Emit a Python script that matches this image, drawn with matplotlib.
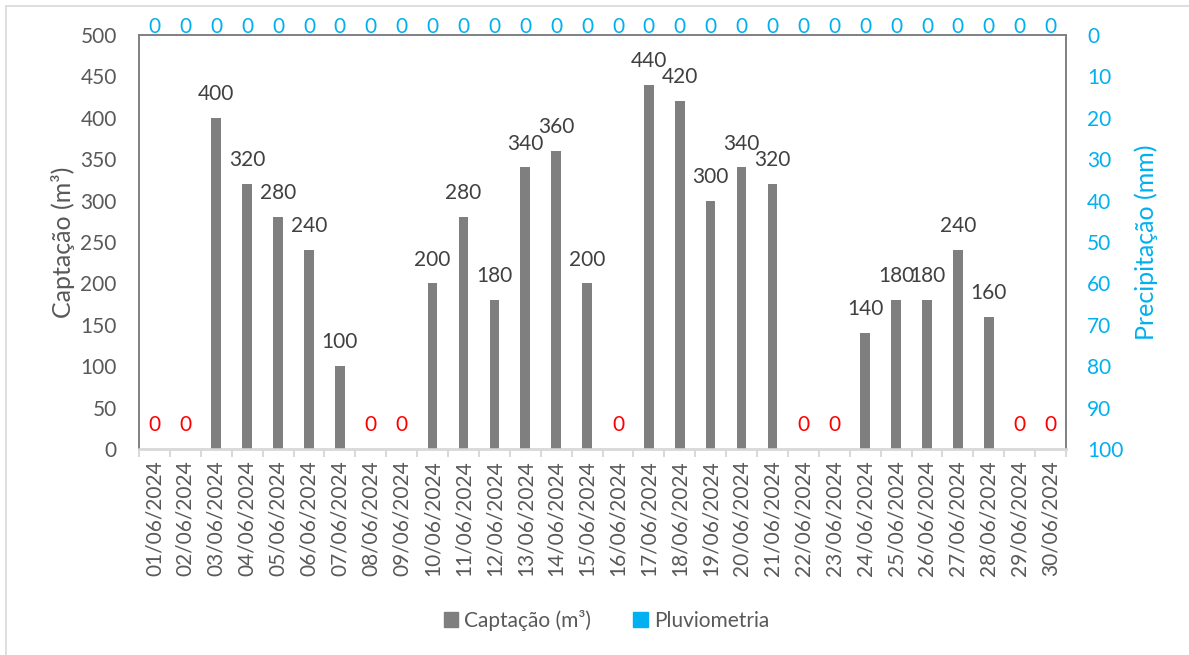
import numpy as np
import matplotlib.pyplot as plt
from matplotlib.patches import Rectangle
from matplotlib.lines import Line2D

plt.rcParams['font.family'] = ['Lato', 'DejaVu Sans']

# Dados (junho de 2024)
dias = [f"{d:02d}/06/2024" for d in range(1, 31)]
captacao = [0, 0, 400, 320, 280, 240, 100, 0, 0, 200,
            280, 180, 340, 360, 200, 0, 440, 420, 300, 340,
            320, 0, 0, 140, 180, 180, 240, 160, 0, 0]
pluviometria = [0] * 30

cinza = '#7F7F7F'
azul = '#00B0F0'
texto = '#595959'
rotulo = '#404040'
fs = 15

fig = plt.figure(figsize=(11.89, 6.55), dpi=100)
ax = fig.add_axes([0.1169, 0.3145, 0.7797, 0.6321])
ax2 = ax.twinx()

x = np.arange(len(dias))
ax.bar(x, captacao, width=0.31, color=cinza, zorder=3)
ax2.bar(x, pluviometria, width=0.31, color=azul, zorder=3)

ax.set_xlim(-0.5, len(dias) - 0.5)
ax.set_ylim(0, 500)
ax.set_yticks(range(0, 501, 50))
ax2.set_ylim(100, 0)
ax2.set_yticks(range(0, 101, 10))

# rótulos da captação
for xi, v in zip(x, captacao):
    if v > 0:
        ax.annotate(str(v), (xi, v), xytext=(0, 10), textcoords='offset points',
                    ha='center', va='bottom', fontsize=fs, color=rotulo)
    else:
        ax.text(xi, 29, '0', ha='center', va='center', fontsize=fs, color='red')

# rótulos da pluviometria
for xi, v in zip(x, pluviometria):
    ax2.annotate(str(v), (xi, v), xytext=(0, -1.5), textcoords='offset points',
                 ha='center', va='bottom', fontsize=fs, color=azul, annotation_clip=False)

ax.set_xticks(x)
ax.set_xticklabels(dias, rotation=90, fontsize=fs, color=texto)
ax.set_xticks(np.arange(-0.5, len(dias), 1), minor=True)
ax.tick_params(axis='x', which='major', length=0, pad=8)
ax.tick_params(axis='x', which='minor', length=6, color='#D9D9D9', width=1.5)
ax.tick_params(axis='y', length=0, labelsize=fs, labelcolor=texto, pad=16)
ax2.tick_params(axis='y', length=0, labelsize=fs, labelcolor=azul, pad=15)

for a in (ax, ax2):
    for s in ('left', 'right', 'top'):
        a.spines[s].set_color('#808080')
        a.spines[s].set_linewidth(1.2)
    a.spines['bottom'].set_color('#D9D9D9')
    a.spines['bottom'].set_linewidth(1.8)

ax.set_ylabel('Captação (m³)', fontsize=18, color=texto, labelpad=4)
ax2.set_ylabel('Precipitação (mm)', fontsize=18, color=azul, labelpad=8)

handles = [Rectangle((0, 0), 1, 1, color=cinza), Rectangle((0, 0), 1, 1, color=azul)]
leg = fig.legend(handles, ['Captação (m³)', 'Pluviometria'], loc='center',
                 bbox_to_anchor=(0.51, 0.053), ncol=2, frameon=False, fontsize=fs,
                 handlelength=0.7, handleheight=0.7, handletextpad=0.3, columnspacing=2.0)
for t in leg.get_texts():
    t.set_color(texto)

# moldura externa
fig.add_artist(Line2D([6 / 1189, 6 / 1189], [0, 1 - 6 / 655], transform=fig.transFigure,
                      color='#D9D9D9', lw=1.2))
fig.add_artist(Line2D([6 / 1189, 1], [1 - 6 / 655, 1 - 6 / 655], transform=fig.transFigure,
                      color='#D9D9D9', lw=1.2))

fig.savefig('out.png', dpi=100)
